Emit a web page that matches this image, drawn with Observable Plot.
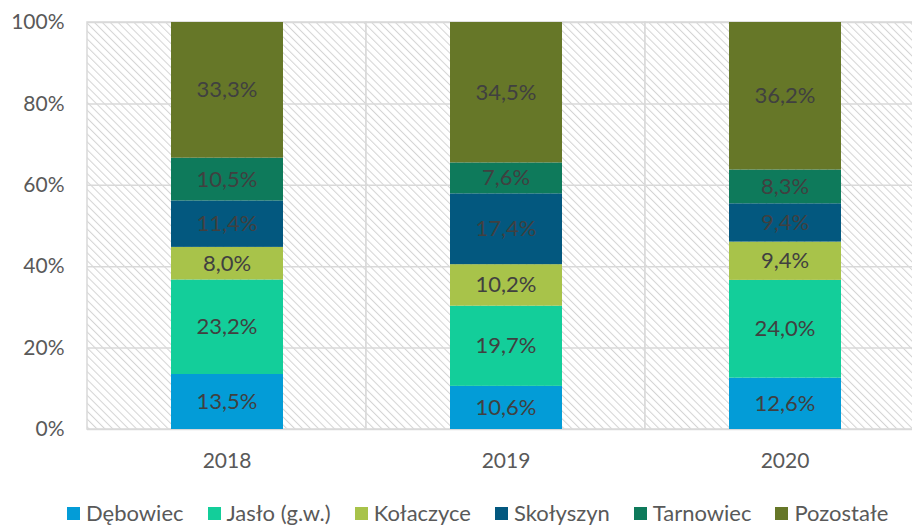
<!DOCTYPE html>
<html>
<head>
<meta charset="utf-8">
<script src="https://cdn.jsdelivr.net/npm/d3@7"></script>
<script src="https://cdn.jsdelivr.net/npm/@observablehq/plot@0.6"></script>
<style>
  body { margin: 0; background: white; font-family: Lato, "Open Sans", sans-serif; }
  #wrap { width: 912px; overflow: hidden; }
  #legend { display: flex; align-items: center; padding-left: 67px; padding-top: 21px; height: 24px; line-height: 24px; font-size: 22px; color: #595959; }
  #legend .item { display: flex; align-items: center; margin-right: 24px; white-space: nowrap; }
  #legend .sw { width: 13px; height: 13px; margin-right: 6px; }
</style>
</head>
<body>
<svg width="0" height="0" style="position:absolute">
  <defs>
    <pattern id="hatch" width="5.6" height="5.6" patternUnits="userSpaceOnUse" patternTransform="rotate(-45)">
      <rect width="5.6" height="5.6" fill="white"></rect>
      <line x1="0" y1="0" x2="0" y2="5.6" stroke="#d4d4d4" stroke-width="2"></line>
    </pattern>
  </defs>
</svg>
<div id="wrap"></div>
<div id="legend"></div>
<script>
const years = ["2018", "2019", "2020"];
const series = ["Dębowiec", "Jasło (g.w.)", "Kołaczyce", "Skołyszyn", "Tarnowiec", "Pozostałe"];
const colors = ["#039cd7", "#13ce9a", "#a8c34a", "#03587f", "#0e7a5b", "#667728"];
const debowiec = [13.5, 10.6, 12.6];
const jaslo = [23.2, 19.7, 24.0];
const kolaczyce = [8.0, 10.2, 9.4];
const skolyszyn = [11.4, 17.4, 9.4];
const tarnowiec = [10.5, 7.6, 8.3];
const pozostale = [33.3, 34.5, 36.2];
const yTicks = [0, 0.2, 0.4, 0.6, 0.8, 1.0];

const values = [debowiec, jaslo, kolaczyce, skolyszyn, tarnowiec, pozostale];
const data = series.flatMap((s, i) => years.map((y, j) => ({year: y, series: s, value: values[i][j]})));
const fmt = v => v.toFixed(1).replace(".", ",") + "%";

const chart = Plot.plot({
  width: 912,
  height: 480,
  marginLeft: 87,
  marginRight: -12,
  marginTop: 22,
  marginBottom: 51,
  style: {fontFamily: "Lato, 'Open Sans', sans-serif", fontSize: "21px", color: "#595959", background: "white", overflow: "hidden"},
  x: {domain: years, padding: 0, label: null, tickSize: 0, tickPadding: 24},
  y: {domain: [0, 1], ticks: yTicks, tickFormat: d3.format(".0%"), label: null, tickSize: 0, tickPadding: 23},
  color: {domain: series, range: colors},
  marks: [
    Plot.barY(years, {x: d => d, y1: 0, y2: 1, fill: "url(#hatch)", stroke: "#d9d9d9", strokeWidth: 1.5}),
    Plot.ruleY(yTicks, {stroke: "#d9d9d9", strokeWidth: 1.5}),
    Plot.barY(data, Plot.stackY({x: "year", y: "value", fill: "series", order: series, offset: "normalize", insetLeft: 84, insetRight: 83})),
    Plot.text(data, Plot.stackY({x: "year", y: "value", z: "series", order: series, offset: "normalize", text: d => fmt(d.value), fill: "#404040", fontSize: 22}))
  ]
});
document.getElementById("wrap").appendChild(chart);

const legend = d3.select("#legend");
series.forEach((s, i) => {
  const it = legend.append("div").attr("class", "item");
  it.append("div").attr("class", "sw").style("background", colors[i]);
  it.append("span").text(s);
});
</script>
</body>
</html>
